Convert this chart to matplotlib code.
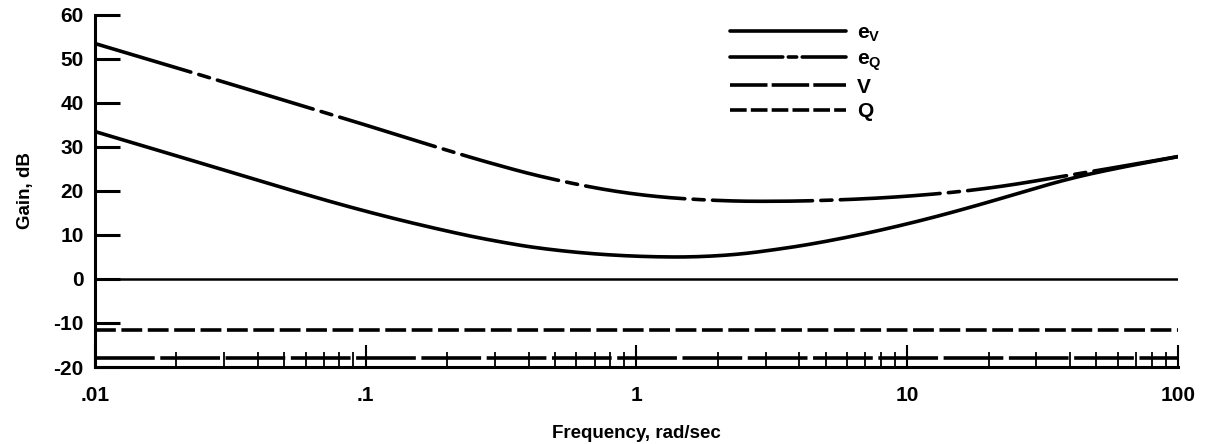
import matplotlib
matplotlib.use("Agg")
import matplotlib.pyplot as plt
import numpy as np

plt.rcParams['font.family'] = ['Liberation Sans', 'DejaVu Sans']
plt.rcParams['font.weight'] = 'bold'
plt.rcParams['mathtext.fontset'] = 'custom'
plt.rcParams['mathtext.rm'] = 'Liberation Sans:bold'
plt.rcParams['mathtext.it'] = 'Liberation Sans:bold'
plt.rcParams['mathtext.bf'] = 'Liberation Sans:bold'
plt.rcParams['lines.scale_dashes'] = False

# frequency points, rad/sec
freq = [0.01, 0.02, 0.05, 0.1, 0.2, 0.316, 0.5, 1, 2, 3.16, 5, 10, 20, 35, 50, 100]

# gains, dB
gain_eV = [33.5, 28.0, 20.6, 15.3, 10.8, 8.3, 6.4, 5.0, 5.0, 6.5, 8.4, 12.4, 17.4, 22.0, 24.3, 27.8]
gain_eQ = [53.5, 48.0, 40.6, 35.0, 29.2, 25.6, 22.4, 19.0, 17.7, 17.6, 17.8, 18.7, 20.5, 23.0, 24.6, 27.8]
gain_V = [-18.0] * len(freq)
gain_Q = [-11.7] * len(freq)
gain_ref = [0.0] * len(freq)

xticks = [0.01, 0.1, 1, 10, 100]
xticklabels = ['.01', '.1', '1', '10', '100']
yticks = [-20, -10, 0, 10, 20, 30, 40, 50, 60]

fig = plt.figure(figsize=(12.1, 4.44), dpi=100)
ax = fig.add_axes([0.0785, 0.1734, 0.895, 0.793])

# smooth curves through the read points (in log-frequency)
lf = np.log10(freq)
xs = np.linspace(lf[0], lf[-1], 400)


def smooth(vals):
    y = np.interp(xs, lf, vals)
    k = 15
    ypad = np.concatenate([np.full(k, y[0]), y, np.full(k, y[-1])])
    ys = np.convolve(ypad, np.ones(2 * k + 1) / (2 * k + 1), mode='same')[k:-k]
    ys[:k] = y[:k]
    ys[-k:] = y[-k:]
    return ys


ax.plot(10 ** xs, smooth(gain_eV), color='black', lw=2.6, solid_capstyle='round', label=r'$\mathrm{e_V}$')
ax.plot(10 ** xs, smooth(gain_eQ), color='black', lw=2.6, dashes=[72, 6, 8, 6], dash_capstyle='round',
        label=r'$\mathrm{e_Q}$')
ax.plot(freq, gain_V, color='black', lw=2.6, dashes=[43, 4], label='V')
ax.plot(freq, gain_Q, color='black', lw=2.6, dashes=[15, 4], label='Q')
ax.plot(freq, gain_ref, color='black', lw=1.8)

ax.set_xscale('log')
ax.set_xlim(0.01, 100)
ax.set_ylim(-20, 60)
ax.set_xticks(xticks)
ax.set_xticklabels(xticklabels)
ax.set_yticks(yticks)
ax.set_yticklabels([str(v) for v in yticks])

for s in ['top', 'right']:
    ax.spines[s].set_visible(False)
for s in ['left', 'bottom']:
    ax.spines[s].set_linewidth(2.2)

ax.tick_params(axis='y', direction='in', length=18, width=2.2, pad=8, labelsize=15)
ax.tick_params(axis='x', which='major', direction='in', length=16, width=1.5, pad=14, labelsize=15)
ax.tick_params(axis='x', which='minor', direction='in', length=11, width=1.3)

ax.set_xlabel('Frequency, rad/sec', fontsize=13.5, fontweight='bold', labelpad=14)
ax.set_ylabel('Gain, dB', fontsize=13.5, fontweight='bold', labelpad=14)

leg = ax.legend(loc='upper left', bbox_to_anchor=(0.586, 0.975), frameon=False, fontsize=15,
                handlelength=5.6, handletextpad=0.5, labelspacing=0.25, borderpad=0, borderaxespad=0)
# legend samples use shorter dash patterns, as in the original figure
leg_lines = leg.get_lines()
leg_lines[1].set_dashes([38, 4, 6, 4])
leg_lines[2].set_dashes([27, 3])
leg_lines[3].set_dashes([12, 3])

fig.savefig('out.png', dpi=100)
